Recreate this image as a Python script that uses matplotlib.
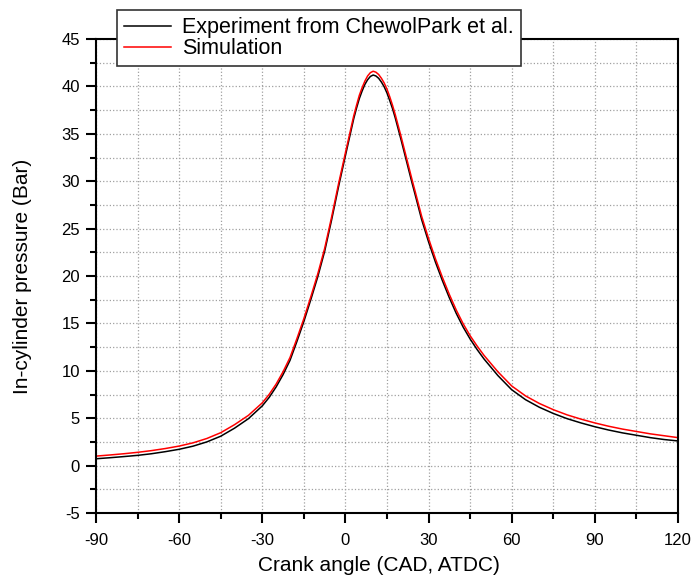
import numpy as np
import matplotlib.pyplot as plt
from matplotlib.ticker import MultipleLocator

# === Data ===
crank_angle = [-90, -85, -80, -75, -70, -65, -60, -55, -50, -45, -40, -35, -30, -27.5,
               -25, -22.5, -20, -17.5, -15, -12.5, -10, -7.5, -5, -2.5, 0, 1, 2, 3, 4,
               5, 6, 7, 8, 9, 10, 11, 12, 13, 14, 15, 16, 17, 18, 19, 20, 21, 22, 23,
               24, 25, 27.5, 30, 32.5, 35, 37.5, 40, 42.5, 45, 47.5, 50, 55, 60, 65,
               70, 75, 80, 85, 90, 95, 100, 105, 110, 115, 120]

p_experiment = [0.72, 0.83, 0.95, 1.08, 1.25, 1.47, 1.72, 2.05, 2.5, 3.1, 3.95, 4.95, 6.3, 7.2,
                8.3, 9.6, 11.1, 13.1, 15.2, 17.5, 19.9, 22.6, 25.9, 29.4, 32.7, 34.0, 35.3, 36.6, 37.7,
                38.7, 39.5, 40.2, 40.7, 41.05, 41.2, 41.1, 40.85, 40.45, 39.95, 39.3, 38.5, 37.65, 36.65, 35.55, 34.45, 33.3, 32.15, 31.0,
                29.85, 28.75, 25.95, 23.6, 21.45, 19.5, 17.7, 16.05, 14.6, 13.35, 12.25, 11.25, 9.5, 8.0, 6.95,
                6.15, 5.5, 4.95, 4.5, 4.1, 3.75, 3.45, 3.2, 2.95, 2.75, 2.6]

p_simulation = [1.0, 1.12, 1.25, 1.4, 1.58, 1.8, 2.06, 2.4, 2.86, 3.47, 4.32, 5.3, 6.62, 7.52,
                8.6, 9.9, 11.4, 13.4, 15.5, 17.8, 20.2, 22.9, 26.2, 29.7, 33.0, 34.3, 35.6, 36.9, 38.0,
                39.05, 39.85, 40.55, 41.1, 41.45, 41.6, 41.5, 41.25, 40.85, 40.35, 39.7, 38.9, 38.0, 37.0, 35.9, 34.8, 33.65, 32.5, 31.35,
                30.2, 29.1, 26.3, 23.95, 21.8, 19.85, 18.05, 16.4, 14.95, 13.7, 12.62, 11.63, 9.9, 8.4, 7.35,
                6.55, 5.9, 5.35, 4.9, 4.5, 4.15, 3.85, 3.6, 3.35, 3.15, 2.95]

plt.rcParams['font.family'] = ['Liberation Sans', 'DejaVu Sans']
plt.rcParams['axes.unicode_minus'] = False

fig = plt.figure(figsize=(6.94, 5.83), dpi=100)
ax = fig.add_axes([96 / 694, 1 - 513 / 583, 582 / 694, 474 / 583])

ax.plot(crank_angle, p_experiment, color='black', lw=1.1, label='Experiment from ChewolPark et al.')
ax.plot(crank_angle, p_simulation, color='red', lw=1.1, label='Simulation')

ax.set_xlim(-90, 120)
ax.set_ylim(-5, 45)
ax.xaxis.set_major_locator(MultipleLocator(30))
ax.xaxis.set_minor_locator(MultipleLocator(15))
ax.yaxis.set_major_locator(MultipleLocator(5))
ax.yaxis.set_minor_locator(MultipleLocator(2.5))

ax.grid(True, which='both', linestyle=':', color='#a0a0a0', linewidth=0.9)
ax.set_axisbelow(True)

ax.tick_params(which='major', direction='out', length=7, width=1.5, labelsize=12)
ax.tick_params(axis='x', which='major', pad=7.5)
ax.tick_params(axis='y', which='major', pad=4.5)
ax.tick_params(which='minor', direction='out', length=4, width=1.5)
ax.tick_params(top=False, right=False, which='both')
for s in ax.spines.values():
    s.set_linewidth(1.5)

ax.set_xlabel('Crank angle (CAD, ATDC)', fontsize=15)
ax.set_ylabel('In-cylinder pressure (Bar)', fontsize=15)
ax.xaxis.set_label_coords(0.486, -0.09)
ax.yaxis.set_label_coords(-0.11, 0.5)

leg = fig.legend(loc='upper left', bbox_to_anchor=(117 / 694, 1 - 10 / 583),
                 fontsize=15.5, frameon=True, fancybox=False, borderaxespad=0,
                 handlelength=2.2, handletextpad=0.5, borderpad=0.33,
                 labelspacing=0.0)
leg.get_frame().set_edgecolor('#333333')
leg.get_frame().set_linewidth(1.2)
leg.get_frame().set_alpha(1)

fig.savefig('out.png', dpi=100)
